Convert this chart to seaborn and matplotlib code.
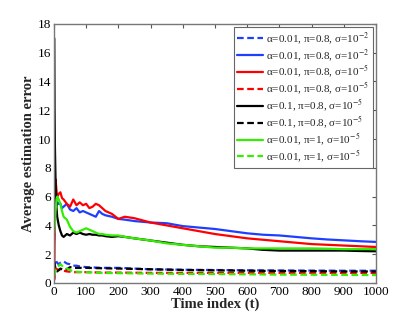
import pandas as pd
import numpy as np
import matplotlib
matplotlib.use("Agg")
import matplotlib.pyplot as plt
import seaborn as sns

t_solid = [1, 2, 3, 5, 8, 10, 15, 20, 25, 30, 40, 50, 60, 70, 80, 90, 100, 110, 120, 130, 140,
           150, 160, 180, 200, 220, 250, 300, 350, 400, 450, 500, 550, 600, 650, 700, 750,
           800, 850, 900, 950, 1000]
blue_solid = [3.0, 6.8, 6.0, 5.6, 5.4, 5.6, 5.5, 5.5, 5.2, 5.3, 5.5, 5.1, 5.0, 5.2, 4.9, 5.0, 4.9,
              4.8, 4.7, 4.6, 5.0, 4.8, 4.7, 4.6, 4.45, 4.4, 4.3, 4.2, 4.15, 3.95, 3.85, 3.75,
              3.6, 3.45, 3.35, 3.3, 3.2, 3.1, 3.02, 2.96, 2.9, 2.85]
red_solid = [0.3, 3.0, 5.0, 7.2, 6.4, 6.0, 6.2, 6.3, 5.9, 5.8, 5.5, 5.3, 5.8, 5.4, 5.6, 5.4, 5.5,
             5.2, 5.3, 5.5, 5.4, 5.2, 5.0, 4.8, 4.45, 4.6, 4.5, 4.2, 4.0, 3.8, 3.6, 3.4, 3.25,
             3.1, 3.0, 2.9, 2.8, 2.7, 2.65, 2.6, 2.55, 2.5]
black_solid = [17.0, 12.0, 9.5, 7.0, 5.2, 4.6, 4.0, 3.6, 3.3, 3.2, 3.4, 3.3, 3.5, 3.4, 3.5, 3.4,
               3.35, 3.4, 3.35, 3.35, 3.3, 3.3, 3.25, 3.2, 3.25, 3.2, 3.1, 2.95, 2.8, 2.65,
               2.55, 2.5, 2.45, 2.4, 2.3, 2.25, 2.25, 2.25, 2.25, 2.25, 2.22, 2.2]
green_solid = [3.5, 4.3, 4.0, 5.0, 5.8, 6.0, 5.8, 5.5, 5.0, 4.6, 4.4, 3.9, 3.6, 3.5, 3.6, 3.7,
               3.8, 3.7, 3.6, 3.5, 3.4, 3.4, 3.35, 3.3, 3.3, 3.2, 3.1, 2.95, 2.75, 2.65, 2.55,
               2.45, 2.45, 2.4, 2.4, 2.4, 2.4, 2.4, 2.38, 2.35, 2.35, 2.35]

t_dash = [1, 3, 5, 10, 15, 20, 30, 40, 50, 60, 70, 80, 100, 150, 200, 300, 400, 500, 600, 700,
          800, 900, 1000]
blue_dash = [1.0, 1.4, 1.6, 1.4, 1.3, 1.4, 1.5, 1.35, 1.3, 1.2, 1.2, 1.15, 1.1, 1.05, 1.05, 0.95,
             0.92, 0.9, 0.88, 0.87, 0.86, 0.85, 0.85]
red_dash = [0.2, 0.8, 1.0, 0.95, 0.9, 0.9, 0.85, 0.8, 0.78, 0.75, 0.75, 0.75, 0.75, 0.72, 0.72,
            0.7, 0.7, 0.7, 0.7, 0.7, 0.7, 0.7, 0.7]
black_dash = [1.5, 1.2, 1.0, 0.8, 0.9, 1.0, 0.9, 0.95, 1.1, 1.05, 1.05, 1.05, 1.05, 1.02, 1.0,
              0.95, 0.9, 0.88, 0.85, 0.83, 0.82, 0.8, 0.8]
green_dash = [0.5, 0.7, 0.9, 1.1, 1.2, 1.3, 1.1, 1.0, 0.9, 0.8, 0.78, 0.76, 0.75, 0.7, 0.68,
              0.65, 0.63, 0.62, 0.6, 0.58, 0.57, 0.56, 0.55]

labels = [r"α=0.01, π=0.8, σ=10$^{-2}$", r"α=0.01, π=0.8, σ=10$^{-2}$ ",
          r"α=0.01, π=0.8, σ=10$^{-5}$", r"α=0.01, π=0.8, σ=10$^{-5}$ ",
          r"α=0.1, π=0.8, σ=10$^{-5}$", r"α=0.1, π=0.8, σ=10$^{-5}$ ",
          r"α=0.01, π=1, σ=10$^{-5}$", r"α=0.01, π=1, σ=10$^{-5}$ "]
series = [(t_dash, blue_dash), (t_solid, blue_solid), (t_solid, red_solid), (t_dash, red_dash),
          (t_solid, black_solid), (t_dash, black_dash), (t_solid, green_solid), (t_dash, green_dash)]
colors = ["#1f3fff", "#1f3fff", "#ff0000", "#ff0000", "#000000", "#000000", "#33ee00", "#33ee00"]
dashed = [True, False, False, True, False, True, False, True]

frames = []
for lab, (tt, yy) in zip(labels, series):
    frames.append(pd.DataFrame({"t": tt, "err": yy, "series": lab}))
df = pd.concat(frames, ignore_index=True)

sns.set_style("white")
plt.rcParams["font.family"] = ["Liberation Serif", "DejaVu Serif"]
plt.rcParams["mathtext.fontset"] = "stix"

fig = plt.figure(figsize=(4.15, 3.19), dpi=100)
ax = fig.add_axes([0.130, 0.113, 0.776, 0.812])

palette = dict(zip(labels, colors))
dashes = {lab: ((3, 1.6) if d else "") for lab, d in zip(labels, dashed)}
sns.lineplot(data=df, x="t", y="err", hue="series", style="series", hue_order=labels,
             style_order=labels, palette=palette, dashes=dashes, estimator=None, sort=False,
             linewidth=1.6, ax=ax)

ax.set_xlim(0, 1000)
ax.set_ylim(0, 18)
ax.set_xticks(range(0, 1001, 100))
ax.set_yticks(range(0, 19, 2))
ax.tick_params(direction="in", length=3, labelsize=9.5, top=True, right=True,
               colors="#555555", labelcolor="black", pad=2)
for s in ax.spines.values():
    s.set_color("#777777")
    s.set_linewidth(1.0)
ax.set_xlabel("Time index (t)", fontsize=10.5, fontweight="bold", labelpad=0)
ax.set_ylabel("Average estimation error", fontsize=10.5, fontweight="bold", labelpad=2)

leg = ax.legend(loc="upper right", fontsize=8, handlelength=2.3, handletextpad=0.3,
                labelspacing=0.05, borderpad=0.3, borderaxespad=0.25, fancybox=False,
                framealpha=1)
leg.get_frame().set_edgecolor("#666666")
leg.get_frame().set_linewidth(0.8)

fig.savefig("out.png", dpi=100)
